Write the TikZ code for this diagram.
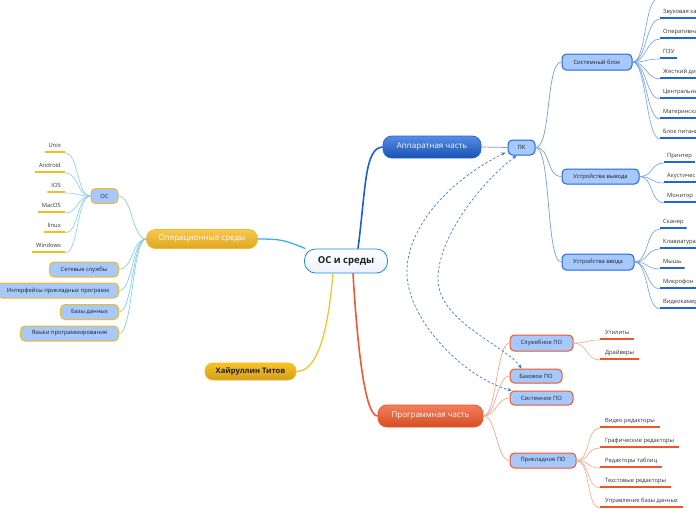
\documentclass[tikz,border=0pt]{standalone}
\usepackage{fontspec}
\setmainfont{Open Sans}
\usetikzlibrary{arrows.meta}
\definecolor{lb}{HTML}{A6C8FA}
\definecolor{bb}{HTML}{1E66DC}
\definecolor{gb}{HTML}{F7B924}
\definecolor{ob}{HTML}{EE5527}
\definecolor{txt}{HTML}{1E1E2A}
\definecolor{lbl}{HTML}{333333}
\definecolor{bline}{HTML}{1C5ED6}
\definecolor{bthin}{HTML}{6E9FEE}
\definecolor{cline}{HTML}{3DB2EA}
\definecolor{cthin}{HTML}{86CEF2}
\definecolor{yline}{HTML}{F9C22E}
\definecolor{oline}{HTML}{EE5A2C}
\definecolor{othin}{HTML}{F8A688}
\definecolor{dashc}{HTML}{3A7BE0}
\newcommand{\fsm}{\fontsize{5.8}{7}\selectfont}
\newcommand{\fmid}{\fontsize{8}{9}\selectfont}
\begin{document}
\begin{tikzpicture}[x=1pt,y=-1pt,
 box/.style={rounded corners=4.5pt, line width=1pt, fill=lb, inner sep=0pt, text=txt, font=\fsm},
 bbox/.style={box,draw=bb}, gbox/.style={box,draw=gb}, obox/.style={box,draw=ob},
 ul/.style={inner xsep=3pt, inner ysep=2pt, text height=4.3pt, text depth=3pt, text=lbl, font=\fsm,
   path picture={\draw[line width=3.6pt,#1] (path picture bounding box.south west) -- (path picture bounding box.south east);}},
 bul/.style={ul=bb}, gul/.style={ul=gb}, oul/.style={ul=ob, inner xsep=5pt},
 bigbox/.style={rounded corners=9pt, line width=0.8pt, inner sep=0pt, font=\fmid},
 bthinl/.style={draw=bthin, line width=0.7pt},
 cthinl/.style={draw=cthin, line width=0.7pt},
 othinl/.style={draw=othin, line width=0.7pt},
 dasharr/.style={draw=dashc, line width=0.7pt, dash pattern=on 2.5pt off 2pt, {Stealth[length=4pt,width=3.5pt]}-{Stealth[length=4pt,width=3.5pt]}}
]
\useasboundingbox (0,0) rectangle (696,520);
\fill[white] (0,0) rectangle (696,520);

% ---------- main nodes
\node[bigbox, rounded corners=11pt, draw=bline!70!cyan, top color=white, bottom color=black!18!blue!6, minimum width=83pt, minimum height=24pt, text=txt, font=\fontsize{9.5}{11}\selectfont\bfseries] (c) at (346,261) {ОС и среды};
\node[bigbox, draw=bb, top color=bb!75!white, bottom color=bb!80!black, text=white, minimum width=98pt, minimum height=22pt] (hw) at (432,147) {Аппаратная часть};
\node[bigbox, draw=gb, top color=gb!80!white, bottom color=gb!90!black, text=white, minimum width=111pt, minimum height=19pt] (os) at (202,239) {Операционные среды};
\node[bigbox, rounded corners=8pt, draw=gb, top color=gb!85!yellow, bottom color=gb!85!black, text=txt, font=\fontsize{7.6}{9}\selectfont\bfseries, minimum width=91pt, minimum height=17pt] (kt) at (250.5,371.5) {Хайруллин Титов};
\node[bigbox, draw=ob, top color=ob!75!white, bottom color=ob!90!black, text=white, minimum width=105pt, minimum height=22pt] (sw) at (430.5,416) {Программная часть};

% ---------- hardware
\node[bbox, minimum width=27pt, minimum height=15pt] (pk) at (521.5,147.5) {ПК};
\node[bbox, minimum width=70pt, minimum height=16pt] (sb) at (597,62) {Системный блок};
\node[bbox, minimum width=77pt, minimum height=15pt] (uv) at (600.5,176.5) {Устройства вывода};
\node[bbox, minimum width=72pt, minimum height=16pt] (ui) at (598,262) {Устройства ввода};

\coordinate (s0) at (658,-1);
\node[bul, anchor=south west] (s1) at (660,19) {Звуковая карта};
\node[bul, anchor=south west] (s2) at (660,39) {Оперативная память};
\node[bul, anchor=south west] (s3) at (660,59) {ПЗУ};
\node[bul, anchor=south west] (s4) at (660,79) {Жесткий диск};
\node[bul, anchor=south west] (s5) at (660,99) {Центральный процессор};
\node[bul, anchor=south west] (s6) at (660,119) {Материнская плата};
\node[bul, anchor=south west] (s7) at (660,139) {Блок питания};

\node[bul, anchor=south west] (v1) at (664,163) {Принтер};
\node[bul, anchor=south west] (v2) at (664,183) {Акустическая система};
\node[bul, anchor=south west] (v3) at (664,203) {Монитор};

\node[bul, anchor=south west] (i1) at (660,229) {Сканер};
\node[bul, anchor=south west] (i2) at (660,249) {Клавиатура};
\node[bul, anchor=south west] (i3) at (660,269) {Мышь};
\node[bul, anchor=south west] (i4) at (660,289) {Микрофон};
\node[bul, anchor=south west] (i5) at (660,309) {Видеокамера};

% ---------- operating environments
\node[gbox, minimum width=27pt, minimum height=15pt] (osn) at (104.5,196) {ОС};
\node[gul, anchor=south east, inner xsep=4pt] (o1) at (65,153) {Unix};
\node[gul, anchor=south east, inner xsep=4pt] (o2) at (65,173) {Android};
\node[gul, anchor=south east, inner xsep=4pt] (o3) at (65,193) {IOS};
\node[gul, anchor=south east, inner xsep=4pt] (o4) at (65,213) {MacOS};
\node[gul, anchor=south east, inner xsep=4pt] (o5) at (65,233) {linux};
\node[gul, anchor=south east, inner xsep=4pt] (o6) at (65,253) {Windows};

\node[gbox, anchor=east, minimum width=69pt, minimum height=15pt] (net) at (119,269.5) {Сетевые службы};
\node[gbox, anchor=east, minimum width=121pt, minimum height=15pt] (api) at (119,290.5) {Интерфейсы прикладных программ};
\node[gbox, anchor=east, minimum width=58pt, minimum height=15pt] (db) at (119,312) {Базы данных};
\node[gbox, anchor=east, minimum width=98pt, minimum height=15pt] (lang) at (119,333.5) {Языки программирования};

% ---------- software
\node[obox, minimum width=63pt, minimum height=16pt] (srv) at (541.5,343) {Служебное ПО};
\node[obox, minimum width=52pt, minimum height=14pt] (base) at (536,376) {Базовое ПО};
\node[obox, minimum width=63pt, minimum height=14pt] (sys) at (541.5,398) {Системное ПО};
\node[obox, minimum width=66pt, minimum height=15pt] (app) at (543,460.5) {Прикладное ПО};

\node[oul, anchor=south west] (u1) at (600,340) {Утилиты};
\node[oul, anchor=south west] (u2) at (600,360) {Драйверы};

\node[oul, anchor=south west] (a1) at (600,428) {Видео редакторы};
\node[oul, anchor=south west] (a2) at (600,448) {Графические редакторы};
\node[oul, anchor=south west] (a3) at (600,468) {Редакторы таблиц};
\node[oul, anchor=south west] (a4) at (600,488) {Текстовые редакторы};
\node[oul, anchor=south west] (a5) at (600,508) {Управление базы данных};

% ---------- connectors
\draw[bline, line width=1.6pt] ([xshift=12pt]c.north) .. controls +(8,-62) and +(-18,1) .. (hw.west);
\draw[cline, line width=1.3pt] (c.163) .. controls +(-20,-8) and +(25,0) .. (os.east);
\draw[yline, line width=1.3pt] ([xshift=-13pt]c.south) .. controls +(-6,70) and +(18,0) .. (kt.east);
\draw[oline, line width=1.6pt] ([xshift=7pt]c.south) .. controls +(6,100) and +(-10,0) .. (sw.west);

\draw[bthinl] (hw.east) -- (pk.west);
\foreach \n in {sb,uv,ui} \draw[bthinl] (pk.east) .. controls +(16,0) and +(-16,0) .. (\n.west);
\draw[bthinl, line width=0.6pt] (sb.east) .. controls +(14,0) and +(-14,0) .. (s0);
\foreach \n in {s1,s2,s3,s4,s5,s6,s7} \draw[bthinl, line width=0.6pt] (sb.east) .. controls +(14,0) and +(-14,0) .. (\n.south west);
\foreach \n in {v1,v2,v3} \draw[bthinl, line width=0.6pt] (uv.east) .. controls +(14,0) and +(-14,0) .. (\n.south west);
\foreach \n in {i1,i2,i3,i4,i5} \draw[bthinl, line width=0.6pt] (ui.east) .. controls +(14,0) and +(-14,0) .. (\n.south west);

\draw[cthinl] (os.west) .. controls +(-14,0) and +(14,0) .. (osn.east);
\foreach \n in {net,api,db,lang} \draw[cthinl] (os.west) .. controls +(-14,0) and +(14,0) .. (\n.east);
\foreach \n in {o1,o2,o3,o4,o5,o6} \draw[cthinl, line width=0.6pt] (osn.west) .. controls +(-14,0) and +(14,0) .. (\n.south east);

\foreach \n in {srv,base,sys,app} \draw[othinl] (sw.east) .. controls +(13,0) and +(-13,0) .. (\n.west);
\foreach \n in {u1,u2} \draw[othinl, line width=0.6pt] (srv.east) .. controls +(14,0) and +(-14,0) .. (\n.south west);
\foreach \n in {a1,a2,a3,a4,a5} \draw[othinl, line width=0.6pt] (app.east) .. controls +(14,0) and +(-14,0) .. (\n.south west);

% relationships
\draw[dasharr] ([xshift=-2pt,yshift=3pt]pk.south west) .. controls (440,185) and (405,235) .. (407,275) .. controls (409,322) and (465,378) .. ([xshift=2pt]sys.north west);
\draw[dasharr] ([xshift=-5pt]pk.south) .. controls (478,185) and (437,240) .. (438,280) .. controls (439,322) and (505,345) .. ([xshift=12pt]base.north west);
\end{tikzpicture}
\end{document}
